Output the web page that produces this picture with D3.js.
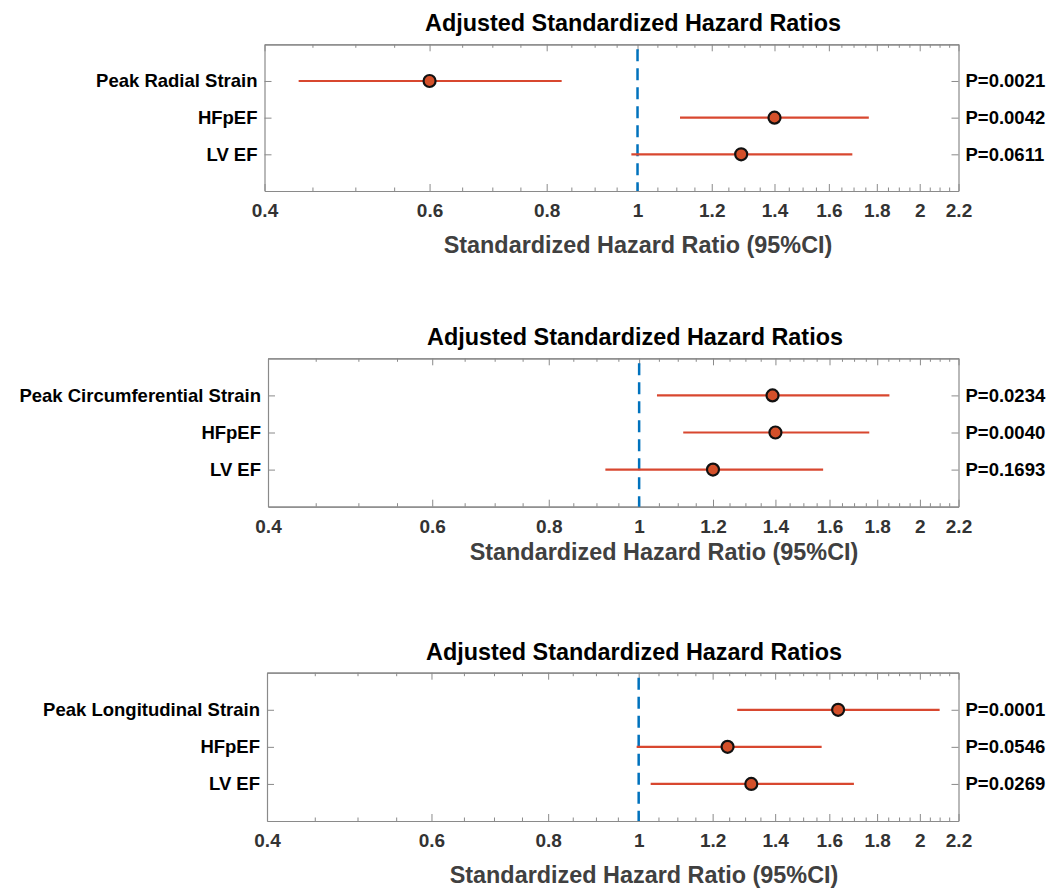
<!DOCTYPE html>
<html>
<head>
<meta charset="utf-8">
<script src="https://cdn.jsdelivr.net/npm/d3@7"></script>
<style>
  body { margin: 0; background: #fff; }
  svg { display: block; font-family: "Liberation Sans", Arial, Helvetica, sans-serif; }
</style>
</head>
<body>
<svg id="chart" width="1053" height="888"></svg>
<script>
// chart data
const panelTitle = "Adjusted Standardized Hazard Ratios";
const xAxisLabel = "Standardized Hazard Ratio (95%CI)";
const xTickValues = [0.4, 0.6, 0.8, 1, 1.2, 1.4, 1.6, 1.8, 2, 2.2];
const xMinorTicks = [0.45, 0.5, 0.55, 0.65, 0.7, 0.75, 0.85, 0.9, 0.95, 1.05, 1.1, 1.15,
  1.25, 1.3, 1.35, 1.45, 1.5, 1.55, 1.65, 1.7, 1.75, 1.85, 1.9, 1.95, 2.05, 2.1, 2.15];

const strainLabels = ["Peak Radial Strain", "Peak Circumferential Strain", "Peak Longitudinal Strain"];
const otherLabels = ["HFpEF", "LV EF"];

// one row per panel: [strain, HFpEF, LV EF]
const hazardRatio = [
  [0.60, 1.40, 1.29],
  [1.39, 1.40, 1.20],
  [1.635, 1.245, 1.32]
];
const ciLower = [
  [0.435, 1.11, 0.985],
  [1.045, 1.115, 0.92],
  [1.275, 0.995, 1.03]
];
const ciUpper = [
  [0.83, 1.765, 1.695],
  [1.855, 1.765, 1.575],
  [2.10, 1.57, 1.70]
];
const pLabels = [
  ["P=0.0021", "P=0.0042", "P=0.0611"],
  ["P=0.0234", "P=0.0040", "P=0.1693"],
  ["P=0.0001", "P=0.0546", "P=0.0269"]
];

// layout of the three stacked axes
const panels = [
  { left: 264.5, right: 958.5, top: 44.3, bottom: 191, titleX: 633, xlabX: 638, xlabY: 245 },
  { left: 268, right: 958.5, top: 358.3, bottom: 506.7, titleX: 635, xlabX: 664, xlabY: 551.7 },
  { left: 267, right: 958.5, top: 672.7, bottom: 821, titleX: 634, xlabX: 644, xlabY: 875 }
];

const svg = d3.select("#chart");
svg.append("rect").attr("width", 1053).attr("height", 888).attr("fill", "#fff");

const font = '"Liberation Sans", Arial, Helvetica, sans-serif';
const boxColor = "#8a8a8a";

panels.forEach((p, k) => {
  const g = svg.append("g");
  const x = d3.scaleLog().domain([0.4, 2.2]).range([p.left, p.right]);
  const y = d3.scaleLinear().domain([0, 4]).range([p.top, p.bottom]);
  const rowNames = [strainLabels[k], ...otherLabels];

  // bottom axis with labels
  const bottom = g.append("g")
    .attr("transform", `translate(0,${p.bottom})`)
    .call(d3.axisBottom(x).tickValues(xTickValues).tickSize(-7).tickSizeOuter(0)
      .tickPadding(13).tickFormat(d => d.toString()));
  bottom.selectAll("text").attr("fill", "#333").attr("font-size", 19)
    .attr("font-weight", "bold").attr("font-family", font);

  // minor ticks bottom + top
  g.append("g").attr("transform", `translate(0,${p.bottom})`)
    .call(d3.axisBottom(x).tickValues(xMinorTicks).tickSize(-3.5).tickSizeOuter(0).tickFormat(""));
  g.append("g").attr("transform", `translate(0,${p.top})`)
    .call(d3.axisTop(x).tickValues(xMinorTicks).tickSize(-3.5).tickSizeOuter(0).tickFormat(""));
  g.append("g").attr("transform", `translate(0,${p.top})`)
    .call(d3.axisTop(x).tickValues(xTickValues).tickSize(-7).tickSizeOuter(0).tickFormat(""));

  // left axis with row names
  const left = g.append("g").attr("transform", `translate(${p.left},0)`)
    .call(d3.axisLeft(y).tickValues([1, 2, 3]).tickSize(-7).tickSizeOuter(0)
      .tickPadding(7).tickFormat(i => rowNames[i - 1]));
  left.selectAll("text").attr("fill", "#000").attr("font-size", 18.5)
    .attr("font-weight", "bold").attr("font-family", font);

  // right axis with P values
  const right = g.append("g").attr("transform", `translate(${p.right},0)`)
    .call(d3.axisRight(y).tickValues([1, 2, 3]).tickSize(-7).tickSizeOuter(0)
      .tickPadding(7).tickFormat(i => pLabels[k][i - 1]));
  right.selectAll("text").attr("fill", "#000").attr("font-size", 18.5)
    .attr("font-weight", "bold").attr("font-family", font);

  g.selectAll(".domain").attr("stroke", boxColor).attr("stroke-width", 1.2);
  g.selectAll(".tick line").attr("stroke", boxColor).attr("stroke-width", 1);

  // reference line at HR = 1
  g.append("line")
    .attr("x1", x(1)).attr("x2", x(1))
    .attr("y1", y(0)).attr("y2", y(4))
    .attr("stroke", "#0072BD").attr("stroke-width", 2.5)
    .attr("stroke-dasharray", "12,7").attr("stroke-dashoffset", 14);

  const rows = d3.range(3);

  // confidence intervals
  g.selectAll(".ci").data(rows).join("line")
    .attr("class", "ci")
    .attr("x1", i => x(ciLower[k][i])).attr("x2", i => x(ciUpper[k][i]))
    .attr("y1", i => y(i + 1)).attr("y2", i => y(i + 1))
    .attr("stroke", "#D8472F").attr("stroke-width", 2.2);

  // point estimates
  g.selectAll(".pt").data(rows).join("circle")
    .attr("class", "pt")
    .attr("cx", i => x(hazardRatio[k][i])).attr("cy", i => y(i + 1))
    .attr("r", 6)
    .attr("fill", "#D4502A").attr("stroke", "#111").attr("stroke-width", 2.2);

  // title
  g.append("text")
    .attr("x", p.titleX).attr("y", p.top - 21.5).attr("dy", "0.36em")
    .attr("text-anchor", "middle")
    .attr("font-size", 23.4).attr("font-weight", "bold").attr("fill", "#000")
    .attr("font-family", font)
    .text(panelTitle);

  // x axis label
  g.append("text")
    .attr("x", p.xlabX).attr("y", p.xlabY).attr("dy", "0.36em")
    .attr("text-anchor", "middle")
    .attr("font-size", 23.4).attr("font-weight", "bold").attr("fill", "#404040")
    .attr("font-family", font)
    .text(xAxisLabel);
});
</script>
</body>
</html>
